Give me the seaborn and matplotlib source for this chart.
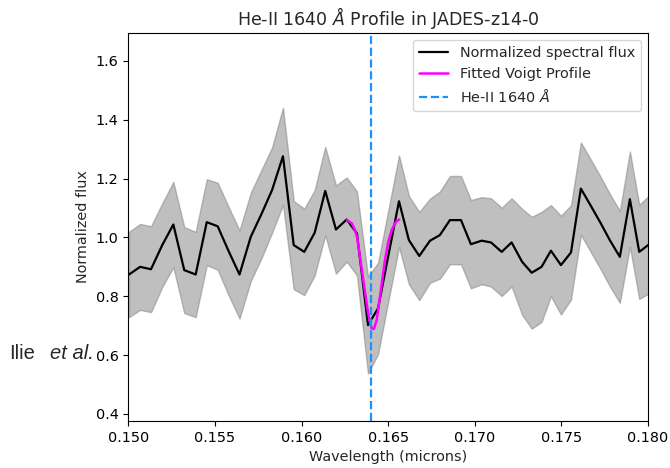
import numpy as np
import pandas as pd
import seaborn as sns
import matplotlib
matplotlib.use("Agg")
import matplotlib.pyplot as plt

# rest-frame wavelength (microns) of each spectral pixel
wavelength = [0.15004, 0.15068, 0.15131, 0.15196, 0.15260, 0.15323, 0.15389, 0.15453,
              0.15516, 0.15578, 0.15642, 0.15707, 0.15770, 0.15830, 0.15893, 0.15955,
              0.16016, 0.16076, 0.16137, 0.16199, 0.16261, 0.16320, 0.16384, 0.16442,
              0.16502, 0.16563, 0.16620, 0.16680, 0.16742, 0.16799, 0.16857, 0.16921,
              0.16978, 0.17040, 0.17094, 0.17156, 0.17213, 0.17274, 0.17329, 0.17386,
              0.17440, 0.17498, 0.17556, 0.17613, 0.17671, 0.17726, 0.17781, 0.17838,
              0.17896, 0.17950, 0.18006]
flux = [0.874, 0.900, 0.892, 0.974, 1.044, 0.889, 0.874, 1.052,
        1.038, 0.955, 0.874, 1.002, 1.081, 1.161, 1.276, 0.974,
        0.951, 1.016, 1.158, 1.027, 1.061, 1.014, 0.702, 0.759,
        0.940, 1.123, 0.991, 0.937, 0.989, 1.008, 1.059, 1.059,
        0.977, 0.989, 0.983, 0.951, 0.983, 0.917, 0.880, 0.900,
        0.955, 0.906, 0.949, 1.166, 1.107, 1.050, 0.990, 0.934,
        1.130, 0.951, 0.976]
flux_err = [0.145, 0.146, 0.146, 0.142, 0.145, 0.146, 0.145, 0.146,
            0.148, 0.150, 0.150, 0.150, 0.150, 0.145, 0.165, 0.150,
            0.147, 0.145, 0.150, 0.150, 0.143, 0.143, 0.165, 0.155,
            0.155, 0.156, 0.150, 0.150, 0.143, 0.148, 0.150, 0.150,
            0.150, 0.148, 0.150, 0.150, 0.150, 0.180, 0.190, 0.187,
            0.155, 0.168, 0.160, 0.157, 0.157, 0.157, 0.157, 0.156,
            0.162, 0.160, 0.166]

# fitted Voigt profile
voigt_wave = [0.16264, 0.16290, 0.16309, 0.16322, 0.16334, 0.16347, 0.16361, 0.16376,
              0.16390, 0.16405, 0.16418, 0.16434, 0.16449, 0.16466, 0.16482, 0.16501,
              0.16521, 0.16545, 0.16564]
voigt_flux = [1.059, 1.048, 1.025, 0.997, 0.951, 0.895, 0.838, 0.776,
              0.725, 0.691, 0.689, 0.719, 0.781, 0.855, 0.923, 0.985,
              1.025, 1.053, 1.061]

heii_line = 0.1640

sns.set_style("ticks")
plt.rcParams["axes.edgecolor"] = "black"
plt.rcParams["xtick.color"] = "black"
plt.rcParams["ytick.color"] = "black"
plt.rcParams["font.family"] = ["DejaVu Sans"]

df = pd.DataFrame({"wave": wavelength, "flux": flux, "err": flux_err})
df_fit = pd.DataFrame({"wave": voigt_wave, "flux": voigt_flux})

fig, ax = plt.subplots(figsize=(6.7, 4.68), dpi=100)
fig.subplots_adjust(left=0.1915, right=0.967, bottom=0.1004, top=0.9295)

sns.lineplot(data=df, x="wave", y="flux", color="black", lw=1.6,
             label="Normalized spectral flux", ax=ax)
ax.fill_between(df["wave"], df["flux"] - df["err"], df["flux"] + df["err"],
                color="gray", alpha=0.5)
sns.lineplot(data=df_fit, x="wave", y="flux", color="magenta", lw=1.8,
             label="Fitted Voigt Profile", ax=ax)
ax.axvline(heii_line, color="dodgerblue", ls="--", lw=1.6,
           label=r"He-II 1640 $\AA$")

ax.set_xlim(0.150, 0.180)
ax.set_ylim(0.376, 1.695)
ax.set_xticks([0.150, 0.155, 0.160, 0.165, 0.170, 0.175, 0.180])
ax.set_xticklabels(["0.150", "0.155", "0.160", "0.165", "0.170", "0.175", "0.180"])
ax.set_yticks([0.4, 0.6, 0.8, 1.0, 1.2, 1.4, 1.6])
ax.set_yticklabels(["0.4", "0.6", "0.8", "1.0", "1.2", "1.4", "1.6"])
ax.tick_params(labelsize=10.4)
ax.set_xlabel("Wavelength (microns)", fontsize=10.4)
ax.set_ylabel("Normalized flux", fontsize=10.4)
ax.set_title(r"He-II 1640 $\AA$ Profile in JADES-z14-0", fontsize=12.5)
ax.legend(loc="upper right", fontsize=10.4)

fig.text(9 / 670, 1 - 359 / 468, "Ilie", fontsize=14.5, family="Liberation Sans",
         ha="left", va="baseline")
fig.text(50 / 670, 1 - 359 / 468, "et al.", fontsize=14.5, family="Liberation Sans",
         style="italic", ha="left", va="baseline")

fig.savefig("out.png", dpi=100)
